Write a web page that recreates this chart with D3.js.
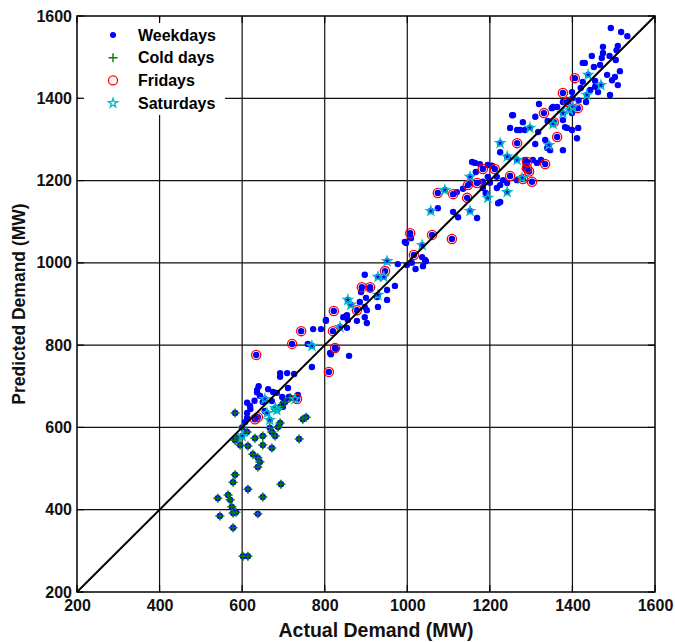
<!DOCTYPE html>
<meta charset="utf-8">
<script src="https://d3js.org/d3.v7.min.js"></script>
<title>Actual vs Predicted Demand</title>
<style>
body { margin: 0; background: #fff; }
svg { font-family: "Liberation Sans", Arial, sans-serif; font-weight: bold; }
</style>
<svg width="675" height="642"></svg>
<script>

// axis ticks (MW)
var tickValues = [200, 400, 600, 800, 1000, 1200, 1400, 1600];

// [actual, predicted] pairs, MW
var weekdays = [
  [607,613],[612,623],[612,635],[619,652],[636,685],[636,691],[643,677],[650,662],[663,693],[675,686],
  [684,684],[697,674],[699,659],[699,650],[713,674],[735,679],[692,723],[692,732],[709,732],[726,730],
  [711,696],[672,664],[655,640],[620,645],[630,665],[640,700],[612,660],
  [769,747],[815,778],[813,781],[827,791],[859,774],[759,803],[772,839],[791,839],[803,859],[803,861],
  [852,871],[854,842],[856,861],[878,859],[902,854],[897,868],[854,873],[845,868],[885,905],[897,893],
  [902,885],[929,893],[927,917],[888,929],[900,915],[910,935],[951,934],[970,944],[951,910],[897,971],
  [977,997],[999,995],[997,1048],[1036,1014],[1045,1004],[1038,992],[1011,1000],[1009,1060],[994,1051],
  [1043,1007],[1020,985],
  [1074,1133],[1111,1124],[1123,1111],[1169,1109],[1120,1172],[1152,1194],[1166,1221],[1195,1209],
  [1220,1145],[1225,1148],[1205,1236],[1232,1201],[1242,1194],[1225,1189],[1217,1182],[1183,1197],
  [1176,1240],[1164,1243],[1157,1245],[1195,1238],[1217,1209],[1183,1182],[1200,1195],[1135,1180],[1190,1170],
  [1285,1230],[1314,1243],[1285,1250],[1310,1289],[1339,1279],[1304,1250],[1225,1269],[1244,1257],
  [1377,1274],[1256,1359],[1280,1342],[1285,1323],[1249,1328],[1266,1323],[1273,1323],[1317,1318],
  [1334,1299],[1346,1274],[1387,1328],[1411,1303],[1414,1328],[1399,1323],[1382,1330],[1254,1359],
  [1319,1386],[1350,1376],[1353,1379],[1363,1379],[1377,1347],[1399,1364],[1377,1391],[1433,1391],
  [1324,1250],[1287,1238],[1266,1201],[1310,1355],[1340,1345],
  [1493,1571],[1518,1561],[1533,1551],[1474,1525],[1474,1510],[1510,1527],[1507,1517],[1447,1503],
  [1471,1498],[1490,1503],[1425,1486],[1452,1476],[1467,1481],[1505,1493],[1515,1466],[1484,1457],
  [1503,1452],[1496,1444],[1510,1432],[1455,1442],[1462,1415],[1491,1408],[1425,1440],[1443,1420],
  [1420,1425],[1399,1415],[1455,1428],[1430,1486],[1400,1400],[1415,1395]
];

var coldDays = [
  [583,635],[755,625],[747,620],[583,569],[612,589],[631,574],[650,579],[672,589],[680,579],[692,611],
  [687,601],[667,599],[738,572],[595,557],[614,555],[650,557],[672,550],[626,535],[638,526],[643,516],
  [638,504],[583,485],[578,467],[694,462],[614,450],[541,428],[566,436],[571,424],[575,407],[650,431],
  [546,385],[578,392],[585,394],[638,390],[578,356],[602,287],[614,287],
  [692,650],[704,662],[716,672],[680,645],[600,600],[590,575]
];

var fridays = [
  [634,776],[638,625],[631,620],[733,669],[721,803],[743,834],[810,735],[825,793],[820,834],[822,883],
  [878,885],[890,941],[910,941],[946,980],[1007,1072],[1016,1019],[1060,1068],[1108,1058],[1074,1170],
  [1111,1167],[1145,1158],[1147,1189],[1169,1194],[1183,1228],[1212,1228],[1249,1211],[1280,1204],
  [1302,1197],[1290,1245],[1290,1230],[1295,1222],[1334,1240],[1266,1291],[1331,1364],[1355,1342],
  [1363,1306],[1377,1413],[1389,1391],[1413,1376],[1406,1449]
];

var saturdays = [
  [600,579],[660,635],[667,618],[680,647],[684,642],[655,669],[728,669],[769,798],[837,844],[856,910],
  [863,898],[929,922],[929,966],[943,966],[951,1004],[1036,1043],[1057,1126],[1091,1177],[1152,1126],
  [1152,1209],[1195,1158],[1242,1172],[1225,1291],[1242,1258],[1266,1250],[1278,1206],[1297,1328],
  [1343,1286],[1353,1338],[1377,1364],[1393,1372],[1401,1379],[1435,1408],[1438,1457],[1469,1432]
];

var svg = d3.select("svg");
var x = d3.scaleLinear().domain([200, 1600]).range([77, 655]);
var y = d3.scaleLinear().domain([200, 1600]).range([592, 16]);

// grid
var grid = svg.append("g").attr("stroke", "#111").attr("stroke-width", 1.2);
grid.selectAll(".gx").data(tickValues.slice(1, -1)).join("line")
    .attr("x1", d => x(d)).attr("x2", d => x(d)).attr("y1", y(200)).attr("y2", y(1600));
grid.selectAll(".gy").data(tickValues.slice(1, -1)).join("line")
    .attr("y1", d => y(d)).attr("y2", d => y(d)).attr("x1", x(200)).attr("x2", x(1600));

// all points get a blue dot
var allPts = weekdays.concat(coldDays, fridays, saturdays);
svg.append("g").selectAll("circle").data(allPts).join("circle")
    .attr("cx", d => x(d[0])).attr("cy", d => y(d[1])).attr("r", 3.2)
    .attr("fill", "#0000ff");

function plusPath(cx, cy, s) {
  return "M" + (cx - s) + "," + cy + "H" + (cx + s) + "M" + cx + "," + (cy - s) + "V" + (cy + s);
}

svg.append("g").selectAll("path").data(coldDays).join("path")
    .attr("d", d => plusPath(x(d[0]), y(d[1]), 4.5))
    .attr("stroke", "#008000").attr("stroke-width", 1.5).attr("fill", "none");

svg.append("g").selectAll("circle").data(fridays).join("circle")
    .attr("cx", d => x(d[0])).attr("cy", d => y(d[1])).attr("r", 4.6)
    .attr("fill", "none").attr("stroke", "#ff0000").attr("stroke-width", 1.3);

var star = d3.symbol().type(d3.symbolStar).size(26);
svg.append("g").selectAll("path").data(saturdays).join("path")
    .attr("transform", d => "translate(" + x(d[0]) + "," + y(d[1]) + ")")
    .attr("d", star)
    .attr("fill", "none").attr("stroke", "#00bfbf").attr("stroke-width", 1.3);

// y = x line
svg.append("line")
    .attr("x1", x(200)).attr("y1", y(200)).attr("x2", x(1600)).attr("y2", y(1600))
    .attr("stroke", "#000").attr("stroke-width", 2);

// legend
var legend = svg.append("g");
legend.append("rect").attr("x", 79).attr("y", 20).attr("width", 146).attr("height", 95).attr("fill", "#fff");
var names = ["Weekdays", "Cold days", "Fridays", "Saturdays"];
var ly = d => 35 + d * 22.7;
legend.append("circle").attr("cx", 113).attr("cy", ly(0)).attr("r", 3).attr("fill", "#0000ff");
legend.append("path").attr("d", plusPath(113, ly(1), 4.5)).attr("stroke", "#008000").attr("stroke-width", 1.4);
legend.append("circle").attr("cx", 113).attr("cy", ly(2)).attr("r", 4.5).attr("fill", "none")
    .attr("stroke", "#ff0000").attr("stroke-width", 1.3);
legend.append("path").attr("transform", "translate(113," + ly(3) + ")").attr("d", star)
    .attr("fill", "none").attr("stroke", "#00bfbf").attr("stroke-width", 1.3);
legend.selectAll("text").data(names).join("text")
    .attr("x", 138).attr("y", (d, i) => ly(i)).attr("dy", "0.35em")
    .attr("font-size", 16).text(d => d);

// frame and inner ticks
svg.append("rect").attr("x", 77).attr("y", 16).attr("width", 578).attr("height", 576)
    .attr("fill", "none").attr("stroke", "#000").attr("stroke-width", 1.5);
var tk = svg.append("g").attr("stroke", "#000").attr("stroke-width", 1.2);
tickValues.forEach(function(t) {
  tk.append("line").attr("x1", x(t)).attr("x2", x(t)).attr("y1", 592).attr("y2", 585);
  tk.append("line").attr("x1", x(t)).attr("x2", x(t)).attr("y1", 16).attr("y2", 23);
  tk.append("line").attr("y1", y(t)).attr("y2", y(t)).attr("x1", 77).attr("x2", 84);
  tk.append("line").attr("y1", y(t)).attr("y2", y(t)).attr("x1", 655).attr("x2", 648);
});

// tick labels via axes
var fmt = d3.format("d");
var xAxis = svg.append("g").attr("transform", "translate(0,592)")
    .call(d3.axisBottom(x).tickValues(tickValues).tickFormat(fmt).tickSize(0).tickPadding(8));
var yAxis = svg.append("g").attr("transform", "translate(77,0)")
    .call(d3.axisLeft(y).tickValues(tickValues).tickFormat(fmt).tickSize(0).tickPadding(5));
[xAxis, yAxis].forEach(function(a) {
  a.select(".domain").remove();
  a.selectAll("text").attr("font-size", 16).attr("font-weight", "bold")
      .attr("font-family", "Liberation Sans, Arial, sans-serif").attr("fill", "#111");
});

// titles
svg.append("text").attr("x", 376).attr("y", 637).attr("text-anchor", "middle")
    .attr("font-size", 19.5).attr("fill", "#111").text("Actual Demand (MW)");
svg.append("text").attr("transform", "translate(25,304) rotate(-90)").attr("text-anchor", "middle")
    .attr("font-size", 17.5).attr("fill", "#111").text("Predicted Demand (MW)");
</script>
